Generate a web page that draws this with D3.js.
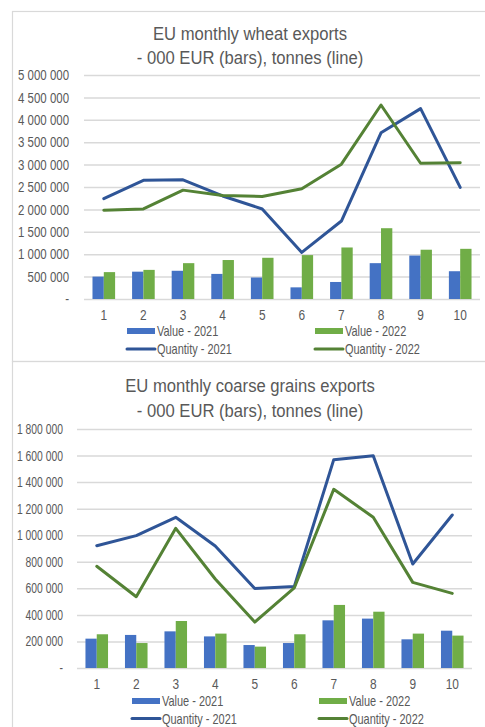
<!DOCTYPE html>
<html>
<head>
<meta charset="utf-8">
<script src="https://cdn.jsdelivr.net/npm/d3@7"></script>
<style>
  html, body { margin: 0; padding: 0; background: #fff; }
  svg { display: block; }
  text { font-family: "Liberation Sans", Arial, sans-serif; fill: #595959; }
</style>
</head>
<body>
<svg id="chart" width="485" height="727"></svg>
<script>
// ---- Data ----
const months = ["1", "2", "3", "4", "5", "6", "7", "8", "9", "10"];

const wheatValue2021 = [500000, 610000, 630000, 560000, 480000, 260000, 380000, 800000, 970000, 620000];
const wheatValue2022 = [600000, 650000, 800000, 870000, 920000, 980000, 1150000, 1580000, 1100000, 1120000];
const wheatQty2021 = [2240000, 2650000, 2660000, 2300000, 2010000, 1040000, 1740000, 3710000, 4250000, 2490000];
const wheatQty2022 = [1980000, 2010000, 2430000, 2310000, 2290000, 2460000, 3010000, 4330000, 3030000, 3040000];
const wheatTicks = [0, 500000, 1000000, 1500000, 2000000, 2500000, 3000000, 3500000, 4000000, 4500000, 5000000];

const grainValue2021 = [221000, 249000, 276000, 238000, 173000, 188000, 359000, 372000, 216000, 281000];
const grainValue2022 = [254000, 188000, 354000, 259000, 161000, 254000, 475000, 424000, 259000, 244000];
const grainQty2021 = [921000, 997000, 1135000, 919000, 598000, 613000, 1569000, 1599000, 783000, 1152000];
const grainQty2022 = [766000, 537000, 1052000, 670000, 346000, 603000, 1346000, 1135000, 645000, 562000];
const grainTicks = [0, 200000, 400000, 600000, 800000, 1000000, 1200000, 1400000, 1600000, 1800000];

const seriesNames = ["Value - 2021", "Value - 2022", "Quantity - 2021", "Quantity - 2022"];

const C = { bar21: "#4472C4", bar22: "#70AD47", line21: "#2F5597", line22: "#548235", grid: "#D9D9D9" };

const svg = d3.select("#chart");

function fmt(v) {
  if (v === 0) return "-";
  return String(v).replace(/\B(?=(\d{3})+(?!\d))/g, " ");
}

// horizontally condense text to mimic the narrow original typeface
function squeeze(sel, factor) {
  sel.each(function () {
    const w = this.getComputedTextLength();
    d3.select(this).attr("textLength", w * factor).attr("lengthAdjust", "spacingAndGlyphs");
  });
}

function drawChart(cfg) {
  const g = svg.append("g");
  // frame
  g.append("rect").attr("x", cfg.frame[0] + 0.5).attr("y", cfg.frame[1] + 0.5)
    .attr("width", cfg.frame[2]).attr("height", cfg.frame[3])
    .attr("fill", "none").attr("stroke", C.grid).attr("stroke-width", 1.2);

  // title
  cfg.title.forEach((t, i) => {
    const tt = g.append("text").attr("x", cfg.titleX).attr("y", cfg.titleY[i])
      .attr("text-anchor", "middle").attr("font-size", 17.5).text(t);
    squeeze(tt, cfg.titleSqueeze);
  });

  const x = d3.scaleBand().domain(months).range([cfg.left, cfg.right]).paddingInner(0).paddingOuter(0);
  const y = d3.scaleLinear().domain([0, cfg.max]).range([cfg.bottom, cfg.top]);

  // gridlines + y axis labels
  const yAxis = d3.axisLeft(y).tickValues(cfg.ticks).tickFormat(fmt).tickSize(-(cfg.right - cfg.left)).tickPadding(cfg.left - cfg.labelRight);
  const ya = g.append("g").attr("transform", `translate(${cfg.left},0)`).call(yAxis);
  ya.select(".domain").remove();
  ya.selectAll(".tick line").attr("stroke", C.grid).attr("stroke-width", 1.5);
  ya.selectAll(".tick text").attr("font-size", cfg.tickSize).attr("fill", "#595959")
    .style("font-family", '"Liberation Sans", Arial, sans-serif');
  squeeze(ya.selectAll(".tick text"), cfg.tickSqueeze);

  // bars
  const inner = d3.scaleBand().domain(["a", "b"]).range([0, x.bandwidth()]).paddingOuter(0.75).paddingInner(0);
  const bars = g.append("g");
  months.forEach((m, i) => {
    [[cfg.v21[i], "a", C.bar21], [cfg.v22[i], "b", C.bar22]].forEach(([v, k, col]) => {
      bars.append("rect")
        .attr("x", x(m) + inner(k)).attr("width", inner.bandwidth())
        .attr("y", y(v)).attr("height", y(0) - y(v)).attr("fill", col);
    });
  });

  // lines
  const line = d3.line().x((d, i) => x(months[i]) + x.bandwidth() / 2).y(d => y(d));
  g.append("path").datum(cfg.q21).attr("d", line).attr("fill", "none").attr("stroke", C.line21)
    .attr("stroke-width", 3).attr("stroke-linejoin", "round").attr("stroke-linecap", "round");
  g.append("path").datum(cfg.q22).attr("d", line).attr("fill", "none").attr("stroke", C.line22)
    .attr("stroke-width", 3).attr("stroke-linejoin", "round").attr("stroke-linecap", "round");

  // x axis labels
  const xAxis = d3.axisBottom(x).tickSize(0).tickPadding(0);
  const xa = g.append("g").attr("transform", `translate(0,${cfg.xLabelY})`).call(xAxis);
  xa.select(".domain").remove();
  xa.selectAll(".tick text").attr("font-size", 14.5).attr("fill", "#595959").attr("dy", 0)
    .style("font-family", '"Liberation Sans", Arial, sans-serif');
  squeeze(xa.selectAll(".tick text"), 0.82);

  // legend
  const L = cfg.legend;
  const items = [
    { name: seriesNames[0], col: C.bar21, type: "bar", x: L.x1, y: L.y1 },
    { name: seriesNames[1], col: C.bar22, type: "bar", x: L.x2, y: L.y1 },
    { name: seriesNames[2], col: C.line21, type: "line", x: L.x1, y: L.y2 },
    { name: seriesNames[3], col: C.line22, type: "line", x: L.x2, y: L.y2 }
  ];
  items.forEach(it => {
    if (it.type === "bar") {
      g.append("rect").attr("x", it.x).attr("y", it.y - 3).attr("width", 28).attr("height", 6).attr("fill", it.col);
    } else {
      g.append("line").attr("x1", it.x).attr("x2", it.x + 28).attr("y1", it.y).attr("y2", it.y)
        .attr("stroke", it.col).attr("stroke-width", 3).attr("stroke-linecap", "round");
    }
    const lt = g.append("text").attr("x", it.x + 30).attr("y", it.y + 5).attr("font-size", 15).text(it.name);
    squeeze(lt, 0.73);
  });
}

drawChart({
  frame: [12, 11, 480, 350],
  title: ["EU monthly wheat exports", "- 000 EUR (bars), tonnes (line)"],
  titleX: 250, titleY: [40, 64], titleSqueeze: 0.95,
  left: 84, right: 480, top: 75, bottom: 299, labelRight: 69,
  tickSize: 14.5, tickSqueeze: 0.79,
  max: 5000000, ticks: wheatTicks,
  v21: wheatValue2021, v22: wheatValue2022, q21: wheatQty2021, q22: wheatQty2022,
  xLabelY: 320,
  legend: { x1: 127, x2: 315, y1: 331, y2: 349 }
});

drawChart({
  frame: [12, 361, 480, 380],
  title: ["EU monthly coarse grains exports", "- 000 EUR (bars), tonnes (line)"],
  titleX: 250, titleY: [392, 417], titleSqueeze: 0.95,
  left: 77, right: 472, top: 429, bottom: 668, labelRight: 63,
  tickSize: 14, tickSqueeze: 0.74,
  max: 1800000, ticks: grainTicks,
  v21: grainValue2021, v22: grainValue2022, q21: grainQty2021, q22: grainQty2022,
  xLabelY: 689,
  legend: { x1: 132, x2: 319, y1: 701, y2: 718.5 }
});
</script>
</body>
</html>
